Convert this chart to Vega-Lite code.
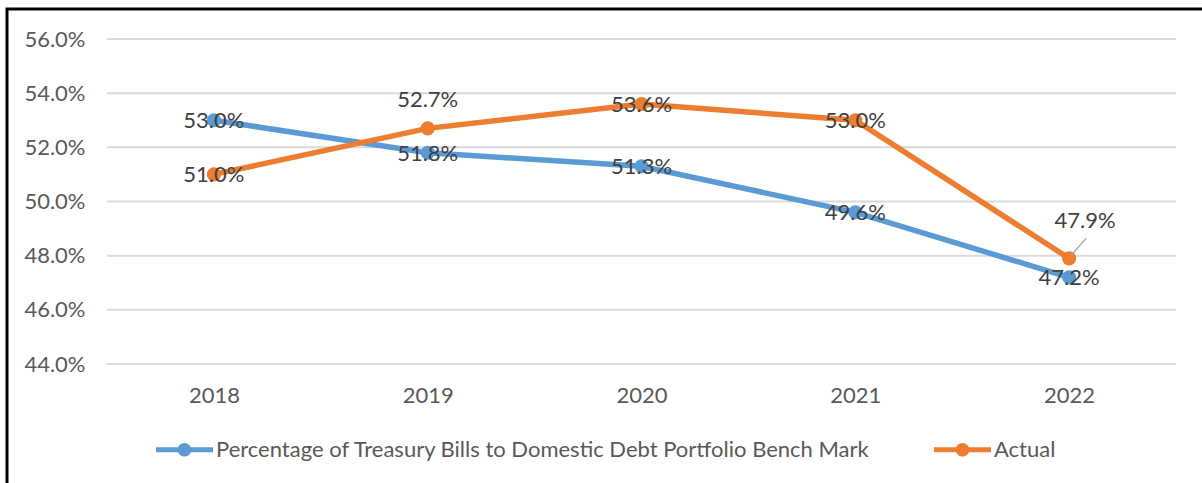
{
  "$schema": "https://vega.github.io/schema/vega-lite/v6.json",
  "width": 1195,
  "height": 474,
  "autosize": {"type": "none"},
  "padding": {"left": 7, "top": 9, "right": 0, "bottom": 0},
  "background": "white",
  "config": {
    "font": "Lato",
    "view": {"stroke": "#000000", "strokeWidth": 3, "strokeDash": [1195, 1669, 474]},
    "axis": {"labelFont": "Lato", "labelFontSize": 22, "labelColor": "#595959", "ticks": false, "tickSize": 0, "domain": false, "grid": false, "title": null},
    "legend": {"labelFont": "Lato", "labelFontSize": 22, "labelColor": "#595959", "labelLimit": 2000, "padding": 0}
  },
  "datasets": {
    "series": [
      {"year": 2018, "series": "Percentage of Treasury Bills to Domestic Debt Portfolio Bench Mark", "value": 0.530},
      {"year": 2019, "series": "Percentage of Treasury Bills to Domestic Debt Portfolio Bench Mark", "value": 0.518},
      {"year": 2020, "series": "Percentage of Treasury Bills to Domestic Debt Portfolio Bench Mark", "value": 0.513},
      {"year": 2021, "series": "Percentage of Treasury Bills to Domestic Debt Portfolio Bench Mark", "value": 0.496},
      {"year": 2022, "series": "Percentage of Treasury Bills to Domestic Debt Portfolio Bench Mark", "value": 0.472},
      {"year": 2018, "series": "Actual", "value": 0.510},
      {"year": 2019, "series": "Actual", "value": 0.527},
      {"year": 2020, "series": "Actual", "value": 0.536},
      {"year": 2021, "series": "Actual", "value": 0.530},
      {"year": 2022, "series": "Actual", "value": 0.479}
    ],
    "grid": [
      {"tick": 0.44}, {"tick": 0.46}, {"tick": 0.48}, {"tick": 0.50}, {"tick": 0.52}, {"tick": 0.54}, {"tick": 0.56}
    ]
  },
  "layer": [
    {
      "data": {"name": "grid"},
      "mark": {"type": "rule", "color": "#D9D9D9", "strokeWidth": 2},
      "encoding": {
        "y": {"field": "tick", "type": "quantitative",
          "scale": {"domain": [0.44, 0.56], "range": [355, 30], "nice": false, "zero": false},
          "axis": {"orient": "left", "offset": -100, "labelPadding": 22, "values": [0.44, 0.46, 0.48, 0.50, 0.52, 0.54, 0.56], "format": ".1%"}},
        "x": {"datum": 2017.5, "type": "quantitative",
          "scale": {"domain": [2017.5, 2022.5], "range": [100, 1169], "nice": false, "zero": false},
          "axis": {"orient": "bottom", "offset": -119, "labelPadding": 21, "values": [2018, 2019, 2020, 2021, 2022], "format": "d", "labelFlush": false, "labelOverlap": false}},
        "x2": {"datum": 2022.5}
      }
    },
    {
      "data": {"name": "series"},
      "mark": {"type": "line", "strokeWidth": 5.5},
      "encoding": {
        "x": {"field": "year", "type": "quantitative"},
        "y": {"field": "value", "type": "quantitative"},
        "color": {"field": "series", "type": "nominal",
          "scale": {"domain": ["Percentage of Treasury Bills to Domestic Debt Portfolio Bench Mark", "Actual"], "range": ["#5B9BD5", "#ED7D31"]},
          "legend": {"orient": "none", "legendX": 149, "legendY": 412, "direction": "horizontal", "title": null,
            "symbolType": "M-1,-0.088L1,-0.088L1,0.088L-1,0.088Z M0.24,0A0.24,0.24,0,1,1,-0.24,0A0.24,0.24,0,1,1,0.24,0Z",
            "symbolSize": 3249, "symbolStrokeWidth": 0, "labelOffset": 3, "columnPadding": 63,
            "encode": {"symbols": {"update": {"fill": {"scale": "color", "field": "value"}, "stroke": {"value": "transparent"}, "opacity": {"value": 1}}}}}}
      }
    },
    {
      "data": {"name": "series"},
      "mark": {"type": "point", "filled": true, "size": 200, "opacity": 1, "strokeWidth": 0},
      "encoding": {
        "x": {"field": "year", "type": "quantitative"},
        "y": {"field": "value", "type": "quantitative"},
        "color": {"field": "series", "type": "nominal"}
      }
    },
    {
      "data": {"name": "series"},
      "transform": [{"filter": "datum.series === 'Actual' && datum.year === 2022"}],
      "mark": {"type": "rule", "color": "#A6A6A6", "strokeWidth": 1.5, "xOffset": 2, "yOffset": -3, "x2Offset": 17, "y2Offset": -20},
      "encoding": {
        "x": {"field": "year", "type": "quantitative"},
        "x2": {"field": "year"},
        "y": {"field": "value", "type": "quantitative"},
        "y2": {"field": "value"}
      }
    },
    {
      "data": {"name": "series"},
      "transform": [{"filter": "!(datum.series === 'Actual' && (datum.year === 2019 || datum.year === 2022))"}],
      "mark": {"type": "text", "fontSize": 22, "color": "#404040", "align": "center", "baseline": "middle", "dy": 1},
      "encoding": {
        "x": {"field": "year", "type": "quantitative"},
        "y": {"field": "value", "type": "quantitative"},
        "text": {"field": "value", "type": "quantitative", "format": ".1%"}
      }
    },
    {
      "data": {"name": "series"},
      "transform": [{"filter": "datum.series === 'Actual' && datum.year === 2019"}],
      "mark": {"type": "text", "fontSize": 22, "color": "#404040", "align": "center", "baseline": "middle", "dy": -28},
      "encoding": {
        "x": {"field": "year", "type": "quantitative"},
        "y": {"field": "value", "type": "quantitative"},
        "text": {"field": "value", "type": "quantitative", "format": ".1%"}
      }
    },
    {
      "data": {"name": "series"},
      "transform": [{"filter": "datum.series === 'Actual' && datum.year === 2022"}],
      "mark": {"type": "text", "fontSize": 22, "color": "#404040", "align": "center", "baseline": "middle", "dx": 16, "dy": -37},
      "encoding": {
        "x": {"field": "year", "type": "quantitative"},
        "y": {"field": "value", "type": "quantitative"},
        "text": {"field": "value", "type": "quantitative", "format": ".1%"}
      }
    }
  ]
}
